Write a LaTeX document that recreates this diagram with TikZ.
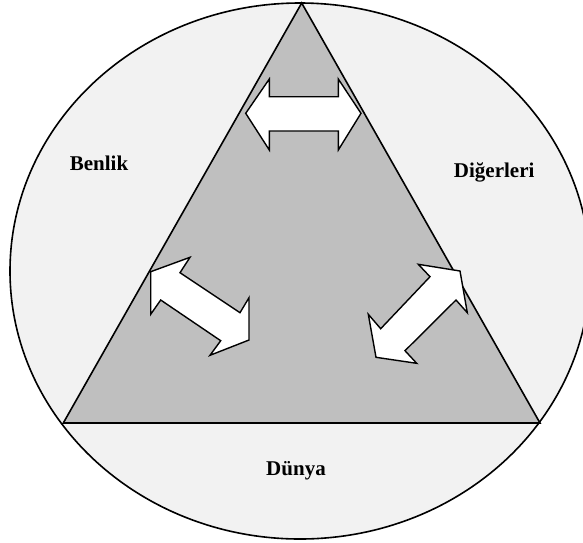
\documentclass[tikz,border=0pt]{standalone}
\usepackage{fontspec}
\setmainfont{Liberation Serif}
\definecolor{outerfill}{HTML}{F2F2F2}
\definecolor{innerfill}{HTML}{BFBFBF}
\begin{document}
\begin{tikzpicture}[x=1pt,y=-1pt,
  label/.style={font=\fontsize{21}{25}\selectfont\bfseries, anchor=base, inner sep=0pt},
  shape line/.style={draw=black, line width=1.6pt, line join=miter},
  arrowshape/.style={draw=black, fill=white, line width=1.4pt, line join=miter}]
\useasboundingbox (0,0) rectangle (583,542);
\clip (0,0) rectangle (583,542);
% outer circle
\draw[shape line, fill=outerfill] (300,271) ellipse [x radius=290, y radius=268];
% triangle
\coordinate (apex) at (301.7,3);
\coordinate (bl) at (63.3,423);
\coordinate (br) at (540,423);
\draw[shape line, fill=innerfill] (apex) -- (bl) -- (br) -- cycle;
% top double arrow
\draw[arrowshape] (245.7,113.3) -- (269.3,79) -- (269.3,96.7) -- (338.3,96.7) -- (338.3,79)
  -- (361,113.3) -- (338.3,150) -- (338.3,131) -- (269.3,131) -- (269.3,150) -- cycle;
% left double arrow
\draw[arrowshape] (150.7,271.7) -- (190,257.3) -- (180,272.7) -- (240,312.7) -- (249,297.7)
  -- (249,340) -- (210,355.3) -- (220.7,340.7) -- (160.7,300) -- (150.7,314.3) -- cycle;
% right double arrow
\draw[arrowshape] (418.3,264.3) -- (460,271) -- (467.3,312.7) -- (456,300) -- (405,350.7)
  -- (416.7,363.3) -- (376,357.3) -- (368.3,314.3) -- (380.7,328.7) -- (430,276.7) -- cycle;
% labels
\node[label] (benlik) at (99,170.7) {Benlik};
\node[label] (digerleri) at (494.2,177.3) {Diğerleri};
\node[label] (dunya) at (296,475) {Dünya};
\end{tikzpicture}
\end{document}
